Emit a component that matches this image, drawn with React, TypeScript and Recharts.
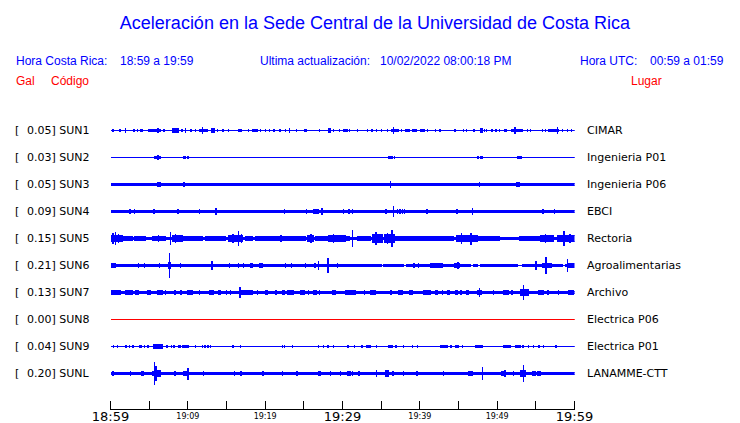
import React from "react";
import { Area, ComposedChart, XAxis, YAxis } from "recharts";

// [inicio en minutos desde 18:59, duración en minutos, semiamplitud en Gal]
type Burst = [number, number, number];

const CODES = ["SUN1", "SUN2", "SUN3", "SUN4", "SUN5", "SUN6", "SUN7", "SUN8", "SUN9", "SUNL"];
const PLACES = [
  "CIMAR",
  "Ingenieria P01",
  "Ingenieria P06",
  "EBCI",
  "Rectoria",
  "Agroalimentarias",
  "Archivo",
  "Electrica P06",
  "Electrica P01",
  "LANAMME-CTT",
];
const PEAK_GAL = [0.05, 0.03, 0.05, 0.09, 0.15, 0.21, 0.13, 0.0, 0.04, 0.2];
const NOISE_GAL = [0, 0, 0.021, 0.021, 0.025, 0.021, 0.024, 0, 0, 0.021];
const DEAD_CODES = ["SUN8"];

const SUN1_BURSTS: Burst[] = [
  [0.3, 0, 0.015], [1.2, 0, 0.015], [1.9, 0, 0.034], [3.0, 0, 0.015], [3.5, 0, 0.015],
  [3.9, 0, 0.015], [4.1, 0, 0.015], [4.9, 1.6, 0.02], [6.1, 0, 0.04], [6.9, 0, 0.015],
  [8.0, 0.8, 0.034], [9.2, 0, 0.015], [9.7, 0, 0.034], [10.4, 0, 0.015], [11.0, 0, 0.015],
  [11.5, 1.0, 0.02], [11.9, 0, 0.052], [13.1, 0.3, 0.034], [13.8, 0, 0.015], [14.5, 0, 0.015],
  [15.2, 0, 0.015], [16.6, 0.3, 0.02], [17.8, 0, 0.015], [18.4, 0.3, 0.02], [18.9, 0, 0.015],
  [19.4, 0, 0.015], [20.0, 0, 0.015], [20.5, 0, 0.015], [21.1, 0, 0.015], [21.9, 0, 0.015],
  [22.6, 0, 0.015], [23.1, 0, 0.034], [24.0, 0, 0.015], [25.1, 0.3, 0.02], [27.0, 0, 0.015],
  [28.2, 0.3, 0.034], [28.8, 0, 0.015], [29.6, 0, 0.015], [30.1, 0.6, 0.02], [30.9, 0, 0.015],
  [31.9, 0, 0.015], [33.2, 0, 0.015], [33.8, 0, 0.015], [34.4, 0, 0.015], [35.0, 0, 0.015],
  [35.8, 0, 0.015], [36.3, 1.0, 0.025], [36.6, 0, 0.052], [37.6, 0, 0.015], [38.1, 0.5, 0.02],
  [39.0, 0.6, 0.02], [40.1, 0.5, 0.02], [41.0, 0, 0.015], [42.0, 0, 0.015], [42.6, 0, 0.015],
  [44.5, 0, 0.015], [45.6, 0, 0.015], [46.0, 0, 0.015], [47.0, 0, 0.015], [47.8, 0.3, 0.034],
  [48.3, 0, 0.015], [48.6, 0, 0.015], [49.3, 0, 0.015], [49.8, 0, 0.015], [50.3, 0, 0.015],
  [50.9, 0.3, 0.02], [51.9, 1.4, 0.025], [52.3, 0, 0.052], [53.9, 0, 0.015], [54.3, 0, 0.015],
  [55.8, 0, 0.015], [56.2, 0, 0.015], [56.6, 1.3, 0.02], [57.8, 0, 0.052], [58.4, 0, 0.015],
  [59.1, 0, 0.015], [59.6, 0, 0.015],
];

const SUN2_BURSTS: Burst[] = [
  [5.7, 0.8, 0.025], [6.1, 0, 0.036], [9.4, 0.25, 0.018], [10.0, 0, 0.01], [35.9, 0, 0.01],
  [36.1, 0.4, 0.018], [36.7, 0, 0.01], [47.5, 0, 0.01], [47.8, 0.25, 0.018], [52.6, 0.5, 0.02],
];

const SUN3_BURSTS: Burst[] = [
  [6.1, 0.4, 0.039], [9.5, 0, 0.039], [15.95, 0.12, 0.006], [36.2, 0, 0.052], [47.7, 0, 0.035],
  [52.5, 0.4, 0.045], [59.4, 0.12, 0.008], [59.7, 0.12, 0.008],
];

const SUN4_BURSTS: Burst[] = [
  [2.5, 0, 0.03], [3.1, 0, 0.045], [5.6, 0, 0.04], [8.7, 0, 0.035], [11.5, 0, 0.028],
  [13.6, 0, 0.05], [15.4, 0, 0.026], [19.8, 0, 0.026], [22.5, 0, 0.028], [24.2, 0, 0.026],
  [25.3, 0, 0.028], [26.3, 0.6, 0.03], [27.3, 0, 0.055], [28.7, 0, 0.026], [30.1, 0, 0.028],
  [30.8, 0, 0.028], [31.3, 0, 0.028], [31.7, 0.4, 0.027], [33.8, 0, 0.026], [35.6, 0, 0.028],
  [36.6, 0, 0.088], [37.1, 0, 0.04], [37.4, 0, 0.035], [37.7, 0, 0.04], [38.0, 0, 0.035],
  [39.8, 0, 0.026], [40.9, 0, 0.04], [42.3, 0, 0.026], [44.8, 0, 0.03], [46.8, 0, 0.06],
  [47.8, 0, 0.026], [51.3, 1.5, 0.012], [55.9, 0, 0.035], [57.4, 0, 0.03], [58.4, 0, 0.026],
];

const SUN5_BURSTS: Burst[] = [
  [0, 1.6, 0.06], [0.3, 0, 0.09], [0.6, 0, 0.105], [1.0, 0, 0.08], [1.7, 1.1, 0.04],
  [3.1, 0.4, 0.035], [3.6, 0.9, 0.03], [5.4, 1.7, 0.035], [6.2, 0, 0.05], [7.7, 0, 0.118],
  [8.0, 1.3, 0.05], [8.4, 0, 0.07], [9.3, 2.6, 0.035], [10.5, 0, 0.045], [12.3, 2.6, 0.03],
  [15.3, 1.8, 0.055], [15.8, 0, 0.08], [16.5, 0, 0.12], [16.9, 0, 0.075], [17.5, 0.9, 0.035],
  [18.8, 2.2, 0.03], [21.1, 2.4, 0.038], [22.0, 0, 0.05], [23.5, 1.7, 0.03], [25.5, 0.8, 0.055],
  [25.9, 0, 0.075], [26.5, 1.5, 0.035], [28.2, 2.2, 0.05], [28.8, 0, 0.065], [29.6, 0, 0.06],
  [30.4, 0.5, 0.045], [31.3, 0, 0.14], [32.0, 1.6, 0.03], [33.9, 1.3, 0.065], [34.3, 0, 0.11],
  [34.8, 0, 0.08], [35.4, 1.3, 0.065], [35.8, 0, 0.09], [36.4, 0, 0.15], [36.8, 1.5, 0.035],
  [38.3, 6.1, 0.03], [39.5, 0.3, 0.045], [41.0, 0.3, 0.045], [42.2, 0.3, 0.04], [43.5, 0.4, 0.045],
  [44.8, 2.6, 0.06], [45.4, 0, 0.085], [46.6, 0, 0.1], [47.4, 2.9, 0.032], [50.3, 2.6, 0.022],
  [52.9, 2.6, 0.04], [55.6, 1.7, 0.055], [56.2, 0, 0.07], [57.8, 2.2, 0.06], [58.6, 0, 0.13],
  [59.4, 0, 0.08],
];

const SUN6_BURSTS: Burst[] = [
  [0, 0.3, 0.03], [0.4, 0.3, 0.03], [3.6, 0, 0.03], [4.4, 0, 0.028], [6.3, 0, 0.045],
  [7.5, 0.3, 0.06], [7.6, 0, 0.22], [9.0, 0, 0.028], [13.1, 0, 0.07], [15.4, 0, 0.028],
  [16.5, 0, 0.028], [17.2, 0, 0.04], [18.1, 0.2, 0.04], [19.3, 0.3, 0.03], [22.6, 0, 0.028],
  [23.4, 0, 0.028], [25.2, 0, 0.045], [26.4, 0, 0.04], [26.9, 0, 0.08], [28.0, 0.2, 0.06],
  [28.1, 0, 0.13], [29.3, 0, 0.035], [30.6, 2.0, 0.025], [35.0, 0.3, 0.006], [37.9, 0.35, 0.006],
  [39.2, 0, 0.045], [39.8, 0, 0.04], [41.4, 1.5, 0.028], [42.3, 0, 0.035], [44.5, 0.6, 0.03],
  [44.9, 0, 0.05], [46.5, 0.4, 0.006], [47.5, 0.3, 0.006], [49.5, 0.15, 0.006], [52.6, 0.7, 0.008],
  [55.0, 0, 0.065], [55.8, 1.2, 0.035], [56.3, 0, 0.14], [58.4, 0.4, 0.006], [59.05, 0, 0.11],
  [59.2, 0.8, 0.03],
];

const SUN7_BURSTS: Burst[] = [
  [0, 1.3, 0.04], [1.9, 0.9, 0.035], [3.2, 0.4, 0.035], [4.8, 0.4, 0.035], [6.1, 0.6, 0.04],
  [7.1, 0, 0.045], [8.3, 0, 0.03], [9.1, 0, 0.03], [10.0, 0.6, 0.04], [11.5, 0, 0.03],
  [12.8, 0.5, 0.04], [14.0, 0.2, 0.03], [15.0, 0, 0.03], [15.5, 0, 0.03], [16.7, 0, 0.085],
  [16.8, 1.6, 0.045], [19.0, 0, 0.03], [20.0, 0.3, 0.04], [21.4, 0, 0.03], [22.3, 0.2, 0.035],
  [22.9, 0.8, 0.045], [24.6, 0.5, 0.035], [25.6, 0, 0.03], [26.2, 0.4, 0.03], [27.0, 0, 0.03],
  [28.7, 0.4, 0.04], [30.4, 1.3, 0.045], [32.8, 0, 0.045], [33.6, 0.7, 0.04], [36.2, 0.2, 0.035],
  [37.2, 0.6, 0.04], [38.7, 0.3, 0.035], [40.5, 0.9, 0.045], [42.0, 0.3, 0.035], [42.9, 0, 0.035],
  [43.6, 0.3, 0.035], [44.6, 0.3, 0.035], [45.3, 0, 0.035], [46.0, 0.3, 0.035], [47.4, 0.6, 0.045],
  [47.7, 0, 0.075], [49.5, 0, 0.035], [50.8, 0.7, 0.035], [51.9, 0, 0.03], [53.0, 1.0, 0.05],
  [53.4, 0, 0.13], [55.3, 0.7, 0.04], [56.5, 0.2, 0.035], [57.9, 0, 0.03], [59.2, 0.7, 0.045],
];

const SUN8_BURSTS: Burst[] = [];

const SUN9_BURSTS: Burst[] = [
  [0.4, 0, 0.015], [0.9, 0, 0.015], [2.0, 0, 0.015], [2.4, 0, 0.015], [2.8, 0.2, 0.015],
  [3.8, 0.25, 0.02], [4.4, 0, 0.015], [4.8, 0, 0.015], [5.6, 1.1, 0.03], [6.0, 0, 0.036],
  [7.3, 0, 0.015], [7.9, 0, 0.015], [8.2, 0, 0.015], [8.8, 0.2, 0.015], [9.3, 0.8, 0.025],
  [11.0, 0, 0.015], [11.9, 0, 0.015], [12.2, 0, 0.015], [12.6, 0, 0.015], [12.9, 0, 0.015],
  [15.8, 0, 0.015], [16.8, 0, 0.015], [22.2, 0, 0.015], [22.5, 0, 0.015], [23.5, 0, 0.015],
  [26.9, 0, 0.015], [27.5, 0, 0.015], [28.1, 0, 0.015], [28.8, 0, 0.015], [30.6, 0.2, 0.015],
  [31.5, 0, 0.015], [32.5, 0, 0.015], [33.1, 0.5, 0.02], [34.4, 0, 0.015], [35.9, 0.6, 0.025],
  [36.9, 0, 0.015], [37.9, 0, 0.015], [39.0, 0, 0.015], [39.7, 0, 0.015], [42.7, 0.9, 0.02],
  [44.0, 0, 0.015], [44.6, 0.4, 0.015], [45.5, 0, 0.015], [47.2, 0.9, 0.02], [50.8, 0.9, 0.022],
  [52.4, 0.6, 0.022], [53.3, 0, 0.015], [54.0, 0, 0.015], [54.7, 0, 0.015], [55.4, 0, 0.015],
  [56.0, 0, 0.015], [57.6, 0, 0.015],
];

const SUNL_BURSTS: Burst[] = [
  [0.3, 0, 0.035], [2.6, 0, 0.03], [4.0, 0.3, 0.03], [5.4, 0.7, 0.035], [5.7, 0, 0.2],
  [5.8, 0.1, 0.12], [6.0, 0.5, 0.06], [8.3, 0, 0.03], [9.5, 0.6, 0.045], [10.0, 0, 0.1],
  [12.0, 0, 0.03], [16.0, 0, 0.03], [16.8, 0.2, 0.04], [19.7, 0, 0.03], [22.2, 0, 0.03],
  [24.1, 0, 0.03], [26.9, 0.2, 0.03], [28.4, 0, 0.03], [29.7, 0, 0.03], [30.6, 0.4, 0.03],
  [31.3, 0, 0.03], [32.1, 0, 0.03], [34.4, 0, 0.05], [35.6, 0.4, 0.05], [35.8, 0, 0.055],
  [36.5, 0, 0.03], [37.9, 0, 0.035], [39.6, 0, 0.035], [43.0, 0, 0.03], [46.3, 0.5, 0.035],
  [48.1, 0, 0.105], [50.6, 0.5, 0.045], [51.0, 0, 0.05], [52.1, 0, 0.03], [53.0, 0.7, 0.05],
  [53.4, 0, 0.15], [54.6, 0.3, 0.035], [55.2, 0.4, 0.035],
];

const BURSTS = [
  SUN1_BURSTS, SUN2_BURSTS, SUN3_BURSTS, SUN4_BURSTS, SUN5_BURSTS,
  SUN6_BURSTS, SUN7_BURSTS, SUN8_BURSTS, SUN9_BURSTS, SUNL_BURSTS,
];

const TICK_MINUTES = [0, 5, 10, 15, 20, 25, 30, 35, 40, 45, 50, 55, 60];
const TICK_LABELS = ["18:59", "", "19:09", "", "19:19", "", "19:29", "", "19:39", "", "19:49", "", "19:59"];
const MAJOR_LABELS = ["18:59", "19:29", "19:59"];

const WIDTH = 740;
const HEIGHT = 423;
const PLOT_LEFT = 110.5;
const PLOT_RIGHT = 574.5;
const PLOT_TOP = 110.5;
const PLOT_BOTTOM = 409.5;
const FIRST_ROW = 130.5;
const ROW_STEP = 27;
const PX_PER_GAL = 55;
const Y_MAX = (PLOT_BOTTOM - PLOT_TOP) / PX_PER_GAL;
const BLUE = "#0000ff";
const RED = "#ff0000";

const rowValue = (i: number) => (PLOT_BOTTOM - (FIRST_ROW + ROW_STEP * i)) / PX_PER_GAL;
const rowIndex = (v: number) => Math.round((PLOT_BOTTOM - v * PX_PER_GAL - FIRST_ROW) / ROW_STEP);
const ROW_TICKS = CODES.map((_, i) => rowValue(i));

// envolvente escalonada: cada ráfaga reemplaza el ruido de fondo en su tramo
function envelope(noise: number, bursts: Burst[], mid: number) {
  const spans = bursts.map(([t, d, a]) => [t, Math.min(60, t + Math.max(d, 0.05)), a]);
  const cuts = Array.from(new Set([0, 60, ...spans.flatMap((s) => [s[0], s[1]])])).sort((a, b) => a - b);
  const pts: { t: number; lo: number; hi: number }[] = [];
  for (let i = 0; i < cuts.length - 1; i++) {
    const m = (cuts[i] + cuts[i + 1]) / 2;
    const hits = spans.filter((s) => s[0] <= m && s[1] >= m).map((s) => s[2]);
    const amp = hits.length ? Math.max(...hits) : noise;
    pts.push({ t: cuts[i], lo: mid - amp, hi: mid + amp });
    pts.push({ t: cuts[i + 1], lo: mid - amp, hi: mid + amp });
  }
  return pts;
}

const TRACES = CODES.map((code, i) => ({
  code,
  color: DEAD_CODES.includes(code) ? RED : BLUE,
  data: envelope(NOISE_GAL[i], BURSTS[i], rowValue(i)),
}));

function CodeTick({ payload }: any) {
  const i = rowIndex(payload.value);
  const y = FIRST_ROW + ROW_STEP * i + 3.5;
  return (
    <g fontFamily="DejaVu Sans" fontSize={11} fill="#000">
      <text x={15} y={y}>[</text>
      <text x={27} y={y}>{`${PEAK_GAL[i].toFixed(2)}] ${CODES[i]}`}</text>
    </g>
  );
}

function PlaceTick({ payload }: any) {
  const i = rowIndex(payload.value);
  return (
    <text x={587} y={FIRST_ROW + ROW_STEP * i + 3.5} fontFamily="DejaVu Sans" fontSize={11} fill="#000">
      {PLACES[i]}
    </text>
  );
}

function TimeTick({ x, y, payload }: any) {
  const k = TICK_MINUTES.indexOf(payload.value);
  const label = TICK_LABELS[k];
  const major = MAJOR_LABELS.includes(label);
  return (
    <g>
      <line x1={x} x2={x} y1={y - 9} y2={y} stroke="#000" shapeRendering="crispEdges" />
      {label && (
        <text
          x={x}
          y={major ? 421 : 418.5}
          textAnchor="middle"
          fontFamily="DejaVu Sans"
          fontSize={major ? 13 : 8}
          fill="#000"
        >
          {label}
        </text>
      )}
    </g>
  );
}

function Header() {
  const font = "Liberation Sans, Arial, sans-serif";
  return (
    <svg width={WIDTH} height={HEIGHT} style={{ position: "absolute", left: 0, top: 0 }}>
      <g fontFamily={font}>
        <text x={375} y={29} fontSize={18} textAnchor="middle" fill={BLUE}>
          Aceleración en la Sede Central de la Universidad de Costa Rica
        </text>
        <g fontSize={12} fill={BLUE}>
          <text x={16} y={65}>Hora Costa Rica:</text>
          <text x={120} y={65}>18:59 a 19:59</text>
          <text x={260} y={65}>Ultima actualización:</text>
          <text x={380} y={65}>10/02/2022 08:00:18 PM</text>
          <text x={580} y={65}>Hora UTC:</text>
          <text x={650} y={65}>00:59 a 01:59</text>
        </g>
        <g fontSize={12} fill={RED}>
          <text x={16} y={85}>Gal</text>
          <text x={51} y={85}>Código</text>
          <text x={631} y={85}>Lugar</text>
        </g>
      </g>
    </svg>
  );
}

export default function App() {
  return (
    <div style={{ position: "absolute", left: 0, top: 0, width: WIDTH, height: HEIGHT, background: "#fff" }}>
      <style>{`.recharts-area path, .recharts-cartesian-axis-line { shape-rendering: crispEdges; }`}</style>
      <Header />
      <div style={{ position: "absolute", left: 0, top: 0 }}>
        <ComposedChart
          width={WIDTH}
          height={HEIGHT}
          margin={{ top: PLOT_TOP, right: 0, bottom: 0, left: 0 }}
        >
          <XAxis
            xAxisId="t"
            dataKey="t"
            type="number"
            domain={[0, 60]}
            ticks={TICK_MINUTES}
            interval={0}
            height={HEIGHT - PLOT_BOTTOM}
            tickSize={0}
            tickMargin={0}
            tickLine={false}
            axisLine={{ stroke: "#000" }}
            tick={<TimeTick />}
            allowDataOverflow
          />
          <YAxis
            yAxisId="y"
            type="number"
            domain={[0, Y_MAX]}
            ticks={ROW_TICKS}
            interval={0}
            width={PLOT_LEFT}
            axisLine={false}
            tickLine={false}
            tick={<CodeTick />}
            allowDataOverflow
          />
          <YAxis
            yAxisId="place"
            orientation="right"
            type="number"
            domain={[0, Y_MAX]}
            ticks={ROW_TICKS}
            interval={0}
            width={WIDTH - PLOT_RIGHT}
            axisLine={false}
            tickLine={false}
            tick={<PlaceTick />}
            allowDataOverflow
          />
          {TRACES.map((tr) => (
            <Area
              key={tr.code}
              xAxisId="t"
              yAxisId="y"
              data={tr.data}
              dataKey={(p: any) => [p.lo, p.hi]}
              type="linear"
              stroke={tr.color}
              strokeWidth={1}
              fill={tr.color}
              fillOpacity={1}
              dot={false}
              activeDot={false}
              isAnimationActive={false}
            />
          ))}
        </ComposedChart>
      </div>
    </div>
  );
}
